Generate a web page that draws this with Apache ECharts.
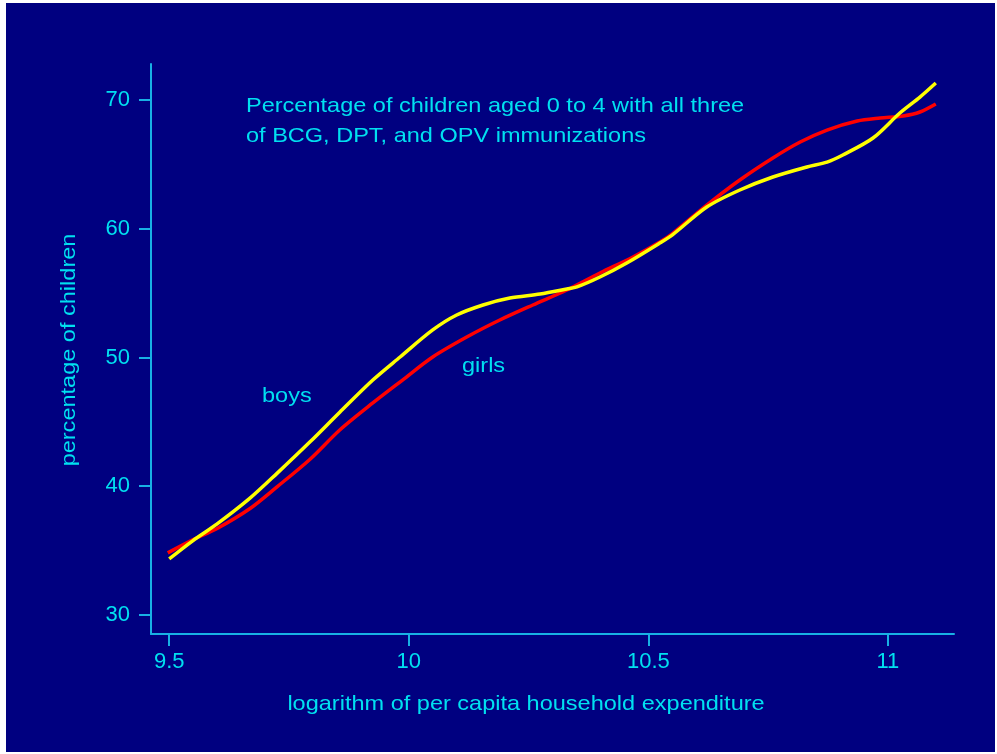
<!DOCTYPE html>
<html>
<head>
<meta charset="utf-8">
<script src="https://cdn.jsdelivr.net/npm/echarts@6/dist/echarts.min.js"></script>
<style>
html,body{margin:0;padding:0;background:#fff;}
#c{width:997px;height:754px;}
</style>
</head>
<body>
<div id="c"></div>
<script>
// Data
var boysX = [9.50, 9.549, 9.600, 9.668, 9.725, 9.794, 9.856, 9.925, 9.982, 10.050, 10.100, 10.155, 10.211, 10.274, 10.330, 10.351, 10.399, 10.455, 10.524, 10.551, 10.622, 10.691, 10.760, 10.831, 10.873, 10.906, 10.969, 11.025, 11.067, 11.100];
var boysY = [34.35, 35.76, 37.07, 39.05, 41.00, 43.45, 45.75, 48.25, 50.04, 52.14, 53.30, 54.08, 54.62, 54.93, 55.32, 55.48, 56.25, 57.34, 58.89, 59.55, 61.69, 63.01, 64.02, 64.80, 65.18, 65.73, 67.05, 68.99, 70.23, 71.32];
var girlsX = [9.497, 9.549, 9.600, 9.668, 9.725, 9.794, 9.856, 9.925, 9.987, 10.050, 10.121, 10.190, 10.259, 10.330, 10.399, 10.468, 10.524, 10.551, 10.622, 10.691, 10.760, 10.817, 10.873, 10.936, 10.984, 11.032, 11.067, 11.100];
var girlsY = [34.82, 35.83, 36.72, 38.25, 39.95, 42.10, 44.37, 46.47, 48.25, 50.04, 51.59, 52.91, 54.08, 55.24, 56.56, 57.81, 58.97, 59.65, 61.84, 63.79, 65.50, 66.74, 67.67, 68.37, 68.60, 68.76, 69.07, 69.69];
var xTicks = [9.5, 10, 10.5, 11];
var yTicks = [30, 40, 50, 60, 70];
var titleLines = ['Percentage of children aged 0 to 4 with all three', 'of BCG, DPT, and OPV immunizations'];
var xName = 'logarithm of per capita household expenditure';
var yName = 'percentage of children';

function pairs(xs, ys){ var o=[]; for(var i=0;i<xs.length;i++) o.push([xs[i], ys[i]]); return o; }

var axisCol = '#18B0E4';
var textCol = '#00E0F0';
var font = 'Liberation Sans, Arial, sans-serif';
var sx = 1.12;

function txt(x, y, s, align, rot){
  return {type:'text', x:x, y:y, rotation:rot||0, scaleX:sx, silent:true,
    style:{text:s, fill:textCol, fontSize:21, fontFamily:font, align:align||'left', verticalAlign:'middle'}};
}

var chart = echarts.init(document.getElementById('c'), null, {renderer:'canvas'});
chart.setOption({
  backgroundColor: '#ffffff',
  animation: false,
  grid: {left:151, right:43, top:64, bottom:120, containLabel:false},
  xAxis: {
    type:'value', min:9.462, max:11.138,
    axisLine:{lineStyle:{color:axisCol, width:2}},
    axisTick:{show:true, length:12, lineStyle:{color:axisCol, width:2}, customValues: xTicks},
    axisLabel:{color:textCol, fontSize:22, fontFamily:font, margin:17, customValues: xTicks},
    splitLine:{show:false}
  },
  yAxis: {
    type:'value', min:28.52, max:72.8,
    axisLine:{show:true, lineStyle:{color:axisCol, width:2}},
    axisTick:{show:true, length:12, lineStyle:{color:axisCol, width:2}, customValues: yTicks},
    axisLabel:{color:textCol, fontSize:22, fontFamily:font, margin:21, customValues: yTicks},
    splitLine:{show:false}
  },
  graphic: [
    {type:'rect', z:-100, silent:true, shape:{x:6, y:3, width:989, height:749}, style:{fill:'#000080'}},
    txt(246, 106, titleLines[0]),
    txt(246, 136, titleLines[1]),
    txt(262, 396, 'boys'),
    txt(462, 366, 'girls'),
    txt(526, 704, xName, 'center'),
    txt(69.5, 350, yName, 'center', Math.PI/2)
  ],
  series: [
    {type:'line', name:'girls', data:pairs(girlsX, girlsY), smooth:0.3, showSymbol:false, lineStyle:{color:'#FF0000', width:3.5}, z:3},
    {type:'line', name:'boys', data:pairs(boysX, boysY), smooth:0.3, showSymbol:false, lineStyle:{color:'#FFFF00', width:3.5}, z:4}
  ]
});
</script>
</body>
</html>
